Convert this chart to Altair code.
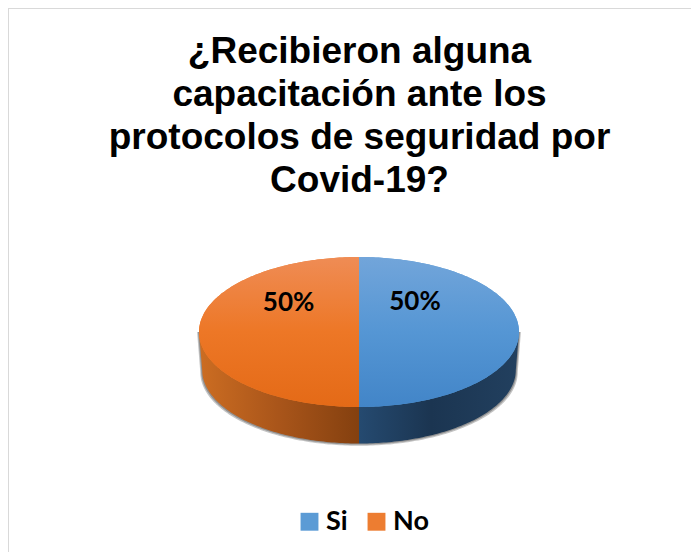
import numpy as np
import pandas as pd
import altair as alt

# ---- chart values
categories = ["Si", "No"]
values = [50, 50]
labels = ["50%", "50%"]
title_lines = ["¿Recibieron alguna", "capacitación ante los",
               "protocolos de seguridad por", "Covid-19?"]
flat_colors = ["#5b9bd5", "#ed7d31"]

# ---- layout
W, H = 683, 544
PX = 160.0              # pixels per unit radius
CX, CY = 351.0, 324.0   # pie centre inside the canvas
TILT = 75 / 160
DEPTH = 38 / 160
NARROW = 0.98
x_dom = [-CX / PX, (W - CX) / PX]
y_dom = [-(H - CY) / PX, CY / PX]
X = alt.X("x:Q", scale=alt.Scale(domain=x_dom, range=[0, W]), axis=None)
Y = alt.Y("y:Q", scale=alt.Scale(domain=y_dom, range=[H, 0]), axis=None)
X2 = alt.X2("x0:Q")

# ---- slice geometry from the values
total = sum(values)
fracs = np.cumsum([0] + values) / total


def slice_sign(i):
    mid = (fracs[i] + fracs[i + 1]) / 2
    return np.sign(np.sin(2 * np.pi * mid))


def top_face(i):
    t = np.linspace(fracs[i], fracs[i + 1], 181) * 2 * np.pi
    return pd.DataFrame({"x": np.sin(t), "x0": 0.0, "y": np.cos(t) * TILT})


def wall(i, grow=0.0, drop=0.0):
    s = slice_sign(i)
    # outer rim from the top-face edge down to the bottom ellipse
    t = np.linspace(np.pi / 2, np.pi, 91)
    yb = np.cos(t) * TILT * NARROW - DEPTH - drop
    xb = np.sin(t) * (NARROW + grow)
    return pd.DataFrame({
        "x": s * np.r_[1 + grow, xb],
        "x0": 0.0,
        "y": np.r_[0.0, yb],
    })


def horiz_gradient(stops):
    return alt.Gradient(
        gradient="linear", x1=0, y1=0, x2=1, y2=0,
        stops=[alt.GradientStop(offset=o, color=c) for o, c in stops])


def vert_gradient(stops):
    return alt.Gradient(
        gradient="linear", x1=0, y1=0, x2=0, y2=1,
        stops=[alt.GradientStop(offset=o, color=c) for o, c in stops])


def area(df, color, **kw):
    return alt.Chart(df).mark_area(orient="horizontal", color=color, **kw).encode(y=Y, x=X, x2=X2)


wall_grads = [
    horiz_gradient([(0, "#254a70"), (0.45, "#1b3551"), (1, "#22405f")]),
    horiz_gradient([(0, "#cc6d22"), (0.5, "#a9551a"), (1, "#84400f")]),
]
top_grads = [
    vert_gradient([(0, "#72a5da"), (0.5, "#5596d4"), (1, "#4285c8")]),
    vert_gradient([(0, "#ef8c55"), (0.5, "#ed7726"), (1, "#e46a17")]),
]

layers = []
# frame of the chart
frame = "#d9d9d9"
layers.append(alt.Chart(pd.DataFrame({"k": [0]})).mark_rule(stroke=frame, strokeWidth=2).encode(
    x=alt.value(0), x2=alt.value(W), y=alt.value(0)))
layers.append(alt.Chart(pd.DataFrame({"k": [0]})).mark_rule(stroke=frame, strokeWidth=2).encode(
    x=alt.value(0), y=alt.value(0), y2=alt.value(H)))

# soft shadow under the disc
for grow, drop, op in [(0.012, 0.014, 0.35), (0.006, 0.007, 0.45)]:
    for i in range(2):
        layers.append(area(wall(i, grow, drop), "#555555", opacity=op))

# side walls
for i in range(2):
    layers.append(area(wall(i), wall_grads[i]))

# top faces: flat legend colour, then the shaded version on top
for i, c in enumerate(categories):
    df = top_face(i).assign(cat=c)
    layers.append(alt.Chart(df).mark_area(orient="horizontal").encode(
        y=Y, x=X, x2=X2,
        color=alt.Color("cat:N",
                        scale=alt.Scale(domain=categories, range=flat_colors),
                        legend=alt.Legend(
                            title=None, orient="none", legendX=288, legendY=500,
                            direction="horizontal", columns=2, symbolType="square",
                            symbolSize=320, symbolStrokeWidth=0, labelFont="Lato",
                            labelFontWeight="bold", labelFontSize=27, labelColor="#000000",
                            labelOffset=3, columnPadding=15, rowPadding=0))))
    layers.append(area(top_face(i), top_grads[i]))

# percentage labels
label_df = pd.DataFrame({
    "x": [0.35, -0.44],
    "y": [0.19, 0.18],
    "t": labels,
})
layers.append(alt.Chart(label_df).mark_text(
    font="Lato", fontWeight="bold", fontSize=26, color="#000000",
    align="center", baseline="middle").encode(x=X, y=Y, text="t:N"))

chart = alt.layer(*layers).properties(
    width=W, height=H, padding=0, autosize=alt.AutoSizeParams(type="none"),
    title=alt.TitleParams(
        text=title_lines, font="Liberation Sans", fontWeight="bold", fontSize=37,
        color="#000000", anchor="middle", lineHeight=43,
        dx=10, dy=193, offset=0),
).configure_view(strokeWidth=0)

chart.save("out.html", embed_options={"renderer": "svg", "actions": False})
